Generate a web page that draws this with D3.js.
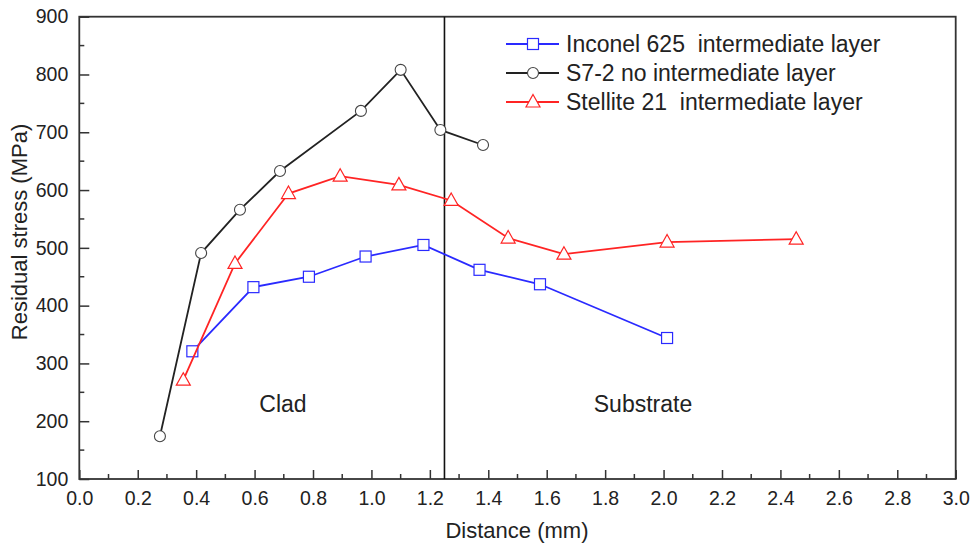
<!DOCTYPE html>
<html>
<head>
<meta charset="utf-8">
<script src="https://cdn.jsdelivr.net/npm/d3@7"></script>
<style>
  body { margin: 0; background: #fff; }
  text { font-family: "Liberation Sans", Arial, sans-serif; fill: #222; }
</style>
</head>
<body>
<div id="chart"></div>
<script>
// data
const inconelX = [0.387, 0.596, 0.786, 0.98, 1.178, 1.37, 1.577, 2.012];
const inconelY = [321, 432, 450, 485, 505, 462, 437, 344];
const s7X = [0.276, 0.417, 0.55, 0.687, 0.964, 1.1, 1.236, 1.382];
const s7Y = [174, 491, 566, 633, 737, 808, 704, 678];
const stelliteX = [0.356, 0.533, 0.716, 0.893, 1.094, 1.273, 1.468, 1.659, 2.012, 2.454];
const stelliteY = [271, 473, 594, 624, 609, 582, 517, 489, 510, 515];

const seriesNames = ["Inconel 625  intermediate layer", "S7-2 no intermediate layer", "Stellite 21  intermediate layer"];
const xTicks = d3.range(0, 3.01, 0.2);
const yTicks = d3.range(100, 901, 100);
const boundary = 1.25;

const width = 972, height = 544;
const margin = {left: 79.3, right: 16.3, top: 16.7, bottom: 65};

const svg = d3.select("#chart").append("svg")
  .attr("width", width)
  .attr("height", height);

const x = d3.scaleLinear().domain([0, 3]).range([margin.left, width - margin.right]);
const y = d3.scaleLinear().domain([100, 900]).range([height - margin.bottom, margin.top]);

const series = [
  {name: seriesNames[0], xs: inconelX, ys: inconelY, color: "#2a2aff", marker: "square"},
  {name: seriesNames[1], xs: s7X, ys: s7Y, color: "#222222", marker: "circle"},
  {name: seriesNames[2], xs: stelliteX, ys: stelliteY, color: "#ff2424", marker: "triangle"}
];

// axes (ticks pointing inward)
const xAxis = svg.append("g")
  .attr("transform", `translate(0,${y(100)})`)
  .call(d3.axisBottom(x).tickValues(xTicks).tickFormat(d3.format(".1f")).tickSize(-9).tickPadding(12));
const yAxis = svg.append("g")
  .attr("transform", `translate(${x(0)},0)`)
  .call(d3.axisLeft(y).tickValues(yTicks).tickFormat(d3.format("d")).tickSize(-10).tickPadding(11));

[xAxis, yAxis].forEach(a => {
  a.select(".domain").remove();
  a.selectAll("line").attr("stroke", "#333").attr("stroke-width", 1.5);
  a.selectAll("text").style("font-size", "19.5px").attr("fill", "#222");
});

// minor ticks
svg.append("g").selectAll("line")
  .data(d3.range(0.1, 3, 0.2))
  .join("line")
  .attr("x1", d => x(d)).attr("x2", d => x(d))
  .attr("y1", y(100)).attr("y2", y(100) - 5)
  .attr("stroke", "#333").attr("stroke-width", 1.5);
svg.append("g").selectAll("line")
  .data(d3.range(150, 900, 100))
  .join("line")
  .attr("x1", x(0)).attr("x2", x(0) + 5)
  .attr("y1", d => y(d)).attr("y2", d => y(d))
  .attr("stroke", "#333").attr("stroke-width", 1.5);

// frame
svg.append("rect")
  .attr("x", x(0)).attr("y", y(900))
  .attr("width", x(3) - x(0)).attr("height", y(100) - y(900))
  .attr("fill", "none").attr("stroke", "#333").attr("stroke-width", 1.8);

// clad/substrate boundary
svg.append("line")
  .attr("x1", x(boundary)).attr("x2", x(boundary))
  .attr("y1", y(900)).attr("y2", y(100))
  .attr("stroke", "#111").attr("stroke-width", 1.6);

svg.append("text").attr("x", 283).attr("y", 411.5).attr("text-anchor", "middle")
  .style("font-size", "23px").text("Clad");
svg.append("text").attr("x", 643).attr("y", 411.5).attr("text-anchor", "middle")
  .style("font-size", "23px").text("Substrate");

// markers
function drawMarker(g, type, cx, cy, color) {
  if (type === "square") {
    g.append("rect").attr("x", cx - 5.5).attr("y", cy - 5.5).attr("width", 11).attr("height", 11)
      .attr("fill", "#fff").attr("stroke", color).attr("stroke-width", 1.2);
  } else if (type === "circle") {
    g.append("circle").attr("cx", cx).attr("cy", cy).attr("r", 5.5)
      .attr("fill", "#fff").attr("stroke", "#444").attr("stroke-width", 1.1);
  } else {
    g.append("path")
      .attr("d", `M${cx},${cy - 7.5}L${cx + 7},${cy + 5}L${cx - 7},${cy + 5}Z`)
      .attr("fill", "#fff").attr("stroke", color).attr("stroke-width", 1.2);
  }
}

const line = d3.line().x(d => x(d[0])).y(d => y(d[1]));

series.forEach(s => {
  const pts = s.xs.map((v, i) => [v, s.ys[i]]);
  svg.append("path")
    .datum(pts)
    .attr("d", line)
    .attr("fill", "none")
    .attr("stroke", s.color)
    .attr("stroke-width", 1.8);
  const g = svg.append("g");
  pts.forEach(p => drawMarker(g, s.marker, x(p[0]), y(p[1]), s.color));
});

// legend
const legend = svg.append("g");
series.forEach((s, i) => {
  const ly = 44 + i * 29;
  legend.append("line").attr("x1", 506).attr("x2", 559).attr("y1", ly).attr("y2", ly)
    .attr("stroke", s.color).attr("stroke-width", 1.8);
  drawMarker(legend, s.marker, 533, ly, s.color);
  legend.append("text").attr("x", 566).attr("y", ly + 8)
    .style("font-size", "23px").style("white-space", "pre").text(s.name);
});

// axis titles
svg.append("text").attr("x", 517).attr("y", 538).attr("text-anchor", "middle")
  .style("font-size", "22px").text("Distance (mm)");
svg.append("text")
  .attr("transform", `translate(27,232) rotate(-90)`)
  .attr("text-anchor", "middle")
  .style("font-size", "22px").text("Residual stress (MPa)");
</script>
</body>
</html>
